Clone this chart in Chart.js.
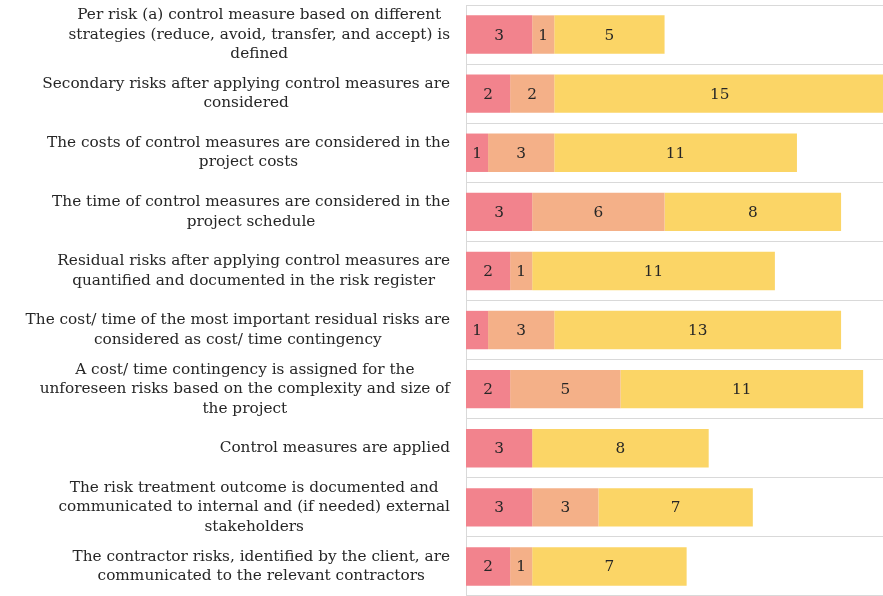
<!DOCTYPE html>
<html lang="en">
<head>
  <meta charset="UTF-8" />
  <title>Control measures survey</title>
  <style>
    body {
      margin: 0;
      background-color: white;
    }
    #wrap {
      width: 883px;
      height: 596px;
    }
  </style>
</head>
<body>
  <div id="wrap"><canvas id="riskChart" width="883" height="596"></canvas></div>

  <script src="https://cdn.jsdelivr.net/npm/chart.js"></script>
  <script>
    // statements, one line per array entry as they wrap on the left side
    const statements = [
      ["Per risk (a) control measure based on different", "strategies (reduce, avoid, transfer, and accept) is", "defined"],
      ["Secondary risks after applying control measures are", "considered"],
      ["The costs of control measures are considered in the", "project costs"],
      ["The time of control measures are considered in the", "project schedule"],
      ["Residual risks after applying control measures are", "quantified and documented in the risk register"],
      ["The cost/ time of the most important residual risks are", "considered as cost/ time contingency"],
      ["A cost/ time contingency is assigned for the", "unforeseen risks based on the complexity and size of", "the project"],
      ["Control measures are applied"],
      ["The risk treatment outcome is documented and", "communicated to internal and (if needed) external", "stakeholders"],
      ["The contractor risks, identified by the client, are", "communicated to the relevant contractors"]
    ];

    const level1 = [3, 2, 1, 3, 2, 1, 2, 3, 3, 2];
    const level2 = [1, 2, 3, 6, 1, 3, 5, 0, 3, 1];
    const level3 = [5, 15, 11, 8, 11, 13, 11, 8, 7, 7];

    const FONT = '"DejaVu Serif", "Liberation Serif", serif';
    const TEXT = '#262626';

    // category labels: each block right-aligned, lines centred inside the block
    const statementLabels = {
      id: 'statementLabels',
      afterDraw(chart) {
        const ctx = chart.ctx;
        const yScale = chart.scales.y;
        const right = yScale.right - 16;
        const lineH = 19.5;
        ctx.save();
        ctx.font = '15.3px ' + FONT;
        ctx.fillStyle = TEXT;
        ctx.textAlign = 'center';
        ctx.textBaseline = 'middle';
        statements.forEach((lines, i) => {
          const widest = Math.max(...lines.map(l => ctx.measureText(l).width));
          const cx = right - widest / 2;
          const cy = yScale.getPixelForTick(i);
          const top = cy - (lines.length - 1) * lineH / 2;
          lines.forEach((l, j) => ctx.fillText(l, cx, top + j * lineH));
        });
        ctx.restore();
      }
    };

    // value written in the middle of every segment
    const segmentValues = {
      id: 'segmentValues',
      afterDatasetsDraw(chart) {
        const ctx = chart.ctx;
        ctx.save();
        ctx.font = '15.3px ' + FONT;
        ctx.fillStyle = TEXT;
        ctx.textAlign = 'center';
        ctx.textBaseline = 'middle';
        chart.data.datasets.forEach((ds, d) => {
          chart.getDatasetMeta(d).data.forEach((bar, i) => {
            const v = ds.data[i];
            if (!v) return;
            const p = bar.getProps(['x', 'y', 'base'], true);
            ctx.fillText(String(v), (p.x + p.base) / 2, p.y + 1);
          });
        });
        ctx.restore();
      }
    };

    new Chart(document.getElementById('riskChart'), {
      type: 'bar',
      data: {
        labels: statements,
        datasets: [
          { label: 'level1', data: level1, backgroundColor: '#f2838d' },
          { label: 'level2', data: level2, backgroundColor: '#f4b088' },
          { label: 'level3', data: level3, backgroundColor: '#fbd566' }
        ]
      },
      options: {
        indexAxis: 'y',
        responsive: false,
        animation: false,
        layout: { padding: { top: 5, right: 0, bottom: 0, left: 0 } },
        datasets: {
          bar: { categoryPercentage: 1, barPercentage: 0.65 }
        },
        plugins: {
          legend: { display: false },
          tooltip: { enabled: false }
        },
        scales: {
          x: {
            stacked: true,
            min: 0,
            max: 18.9,
            display: false
          },
          y: {
            stacked: true,
            ticks: { display: false },
            grid: { color: '#d9d9d9', offset: true, drawTicks: false },
            border: { color: '#d9d9d9' },
            afterFit(scale) { scale.width = 466; }
          }
        }
      },
      plugins: [segmentValues, statementLabels]
    });
  </script>
</body>
</html>
